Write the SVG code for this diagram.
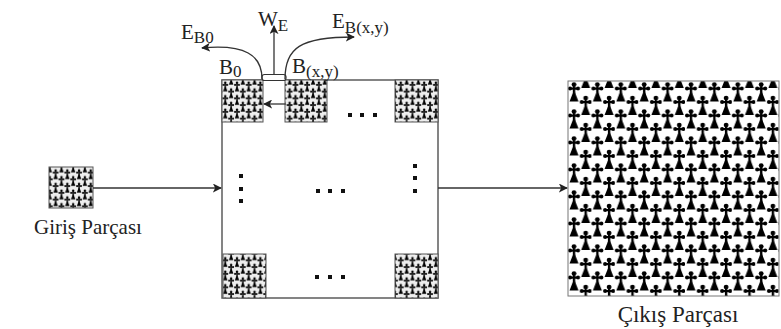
<svg xmlns="http://www.w3.org/2000/svg" xmlns:xlink="http://www.w3.org/1999/xlink" width="781" height="329" viewBox="0 0 781 329">
<style>
.t{font-family:"Liberation Serif","Times New Roman",serif;fill:#222;}
.m{font-size:21px;}
.s{font-size:17px;}
.ln{fill:none;stroke:#333;stroke-width:1.3;}
.box{fill:#fff;stroke:#666;stroke-width:1.6;}
.tile{stroke:#555;stroke-width:1;}
.dot{fill:#111;}
</style>
<defs>
<marker id="ah" viewBox="0 0 10 10" refX="9" refY="5" markerWidth="9" markerHeight="9" markerUnits="userSpaceOnUse" orient="auto">
<path d="M0,0 L10,5 L0,10 L2.5,5 z" fill="#222"/>
</marker>
<g id="cr">
<circle cx="6" cy="2.6" r="2.4"/>
<circle cx="2" cy="6.6" r="2"/>
<circle cx="10" cy="6.6" r="2"/>
<rect x="2" y="5.5" width="8" height="2.2"/>
<rect x="4.8" y="3" width="2.4" height="10"/>
<path d="M6,8 L10.5,19.5 L1.5,19.5 z"/>
</g>
<pattern id="pBig" patternUnits="userSpaceOnUse" x="568" y="81" width="23.4" height="27">
<rect width="23.4" height="27" fill="#fff"/>
<g fill="#000">
<use xlink:href="#cr" x="0" y="1"/>
<use xlink:href="#cr" x="11.7" y="14.5"/>
<use xlink:href="#cr" x="11.7" y="-12.5"/>
</g>
</pattern>
<pattern id="pSm" patternUnits="userSpaceOnUse" width="23.4" height="27" patternTransform="scale(0.5)">
<rect width="23.4" height="27" fill="#eee"/>
<g fill="#000">
<use xlink:href="#cr" x="0" y="1"/>
<use xlink:href="#cr" x="11.7" y="14.5"/>
<use xlink:href="#cr" x="11.7" y="-12.5"/>
</g>
</pattern>
</defs>

<g id="main-block">
<rect class="box" x="222" y="80" width="216" height="218"/>
</g>

<g id="input-patch">
<rect class="tile" x="49" y="167" width="44" height="41" fill="url(#pSm)"/>
<text class="t" x="88" y="234" text-anchor="middle" font-size="21">Giriş Parçası</text>
</g>

<g id="tile-b0"><rect class="tile" x="222" y="80" width="41" height="42" fill="url(#pSm)"/></g>
<g id="tile-bxy"><rect class="tile" x="285" y="80" width="42" height="42" fill="url(#pSm)"/></g>
<g id="tile-tr"><rect class="tile" x="395" y="80" width="43" height="42" fill="url(#pSm)"/></g>
<g id="tile-bl"><rect class="tile" x="223" y="254" width="43" height="44" fill="url(#pSm)"/></g>
<g id="tile-br"><rect class="tile" x="395" y="254" width="43" height="44" fill="url(#pSm)"/></g>

<g id="overlap">
<rect x="262" y="74.5" width="24" height="6" rx="2.5" fill="#fff" stroke="#333" stroke-width="1.2"/>
</g>

<g id="dots">
<rect class="dot" x="348" y="113" width="4" height="4"/>
<rect class="dot" x="360" y="113" width="4" height="4"/>
<rect class="dot" x="373" y="113" width="4" height="4"/>
<rect class="dot" x="316" y="189" width="4" height="4"/>
<rect class="dot" x="328" y="189" width="4" height="4"/>
<rect class="dot" x="341" y="189" width="4" height="4"/>
<rect class="dot" x="239" y="174" width="4" height="4"/>
<rect class="dot" x="239" y="187" width="4" height="4"/>
<rect class="dot" x="239" y="199" width="4" height="4"/>
<rect class="dot" x="413" y="164" width="4" height="4"/>
<rect class="dot" x="413" y="176" width="4" height="4"/>
<rect class="dot" x="413" y="189" width="4" height="4"/>
<rect class="dot" x="315" y="275" width="4" height="4"/>
<rect class="dot" x="328" y="275" width="4" height="4"/>
<rect class="dot" x="341" y="275" width="4" height="4"/>
</g>

<g id="output-patch">
<rect x="568" y="81" width="211" height="215" fill="url(#pBig)" stroke="#777" stroke-width="1"/>
<text class="t" x="678" y="322" text-anchor="middle" font-size="23">Çıkış Parçası</text>
</g>

<g id="connectors">
<line class="ln" x1="93" y1="188" x2="221" y2="188" marker-end="url(#ah)"/>
<line class="ln" x1="438" y1="188" x2="567" y2="188" marker-end="url(#ah)"/>
<line class="ln" x1="285" y1="104" x2="264" y2="104" marker-end="url(#ah)"/>
<line class="ln" x1="274" y1="75" x2="274" y2="26" marker-end="url(#ah)"/>
<path class="ln" d="M262,79 C262,55 245,44 202,48" marker-end="url(#ah)"/>
<path class="ln" d="M285,79 C285,48 300,37 354,37" marker-end="url(#ah)"/>
</g>

<g id="labels">
<text class="t" x="181" y="39"><tspan class="m">E</tspan><tspan class="s" dy="4">B0</tspan></text>
<text class="t" x="258" y="26"><tspan class="m">W</tspan><tspan class="s" dy="5">E</tspan></text>
<text class="t" x="332" y="28"><tspan class="m">E</tspan><tspan class="s" dy="5">B(x,y)</tspan></text>
<text class="t" x="219" y="74"><tspan class="m">B</tspan><tspan class="s" dy="3">0</tspan></text>
<text class="t" x="292" y="73"><tspan class="m">B</tspan><tspan class="s" dy="4">(x,y)</tspan></text>
</g>
</svg>
